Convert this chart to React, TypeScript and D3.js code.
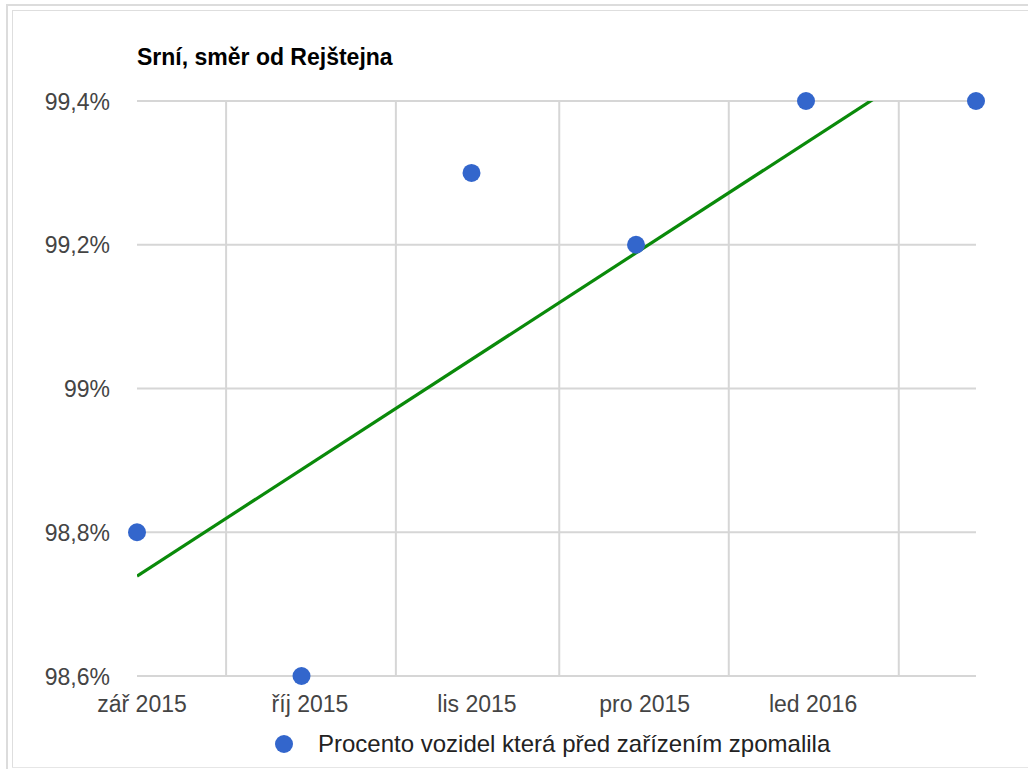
import React from "react";
import * as d3 from "d3";

const title = "Srní, směr od Rejštejna";
const seriesName = "Procento vozidel která před zařízením zpomalila";

const pointDates = [
  Date.UTC(2015, 8, 1),
  Date.UTC(2015, 9, 1),
  Date.UTC(2015, 10, 1),
  Date.UTC(2015, 11, 1),
  Date.UTC(2016, 0, 1),
  Date.UTC(2016, 1, 1),
];
const pointValues = [98.8, 98.6, 99.3, 99.2, 99.4, 99.4];

// trendline (as drawn in reference) at first and last date
const trendDates = [Date.UTC(2015, 8, 1), Date.UTC(2016, 1, 1)];
const trendValues = [98.739, 99.495];

const yTicks = [98.6, 98.8, 99.0, 99.2, 99.4];
const xGridDates = [
  Date.UTC(2015, 8, 17, 6),
  Date.UTC(2015, 9, 18, 5),
  Date.UTC(2015, 10, 17, 0),
  Date.UTC(2015, 11, 17, 22),
  Date.UTC(2016, 0, 17, 22),
];
const xLabelDates = [
  Date.UTC(2015, 8, 1, 22),
  Date.UTC(2015, 9, 2, 13),
  Date.UTC(2015, 10, 2, 0),
  Date.UTC(2015, 11, 2, 14),
  Date.UTC(2016, 0, 2, 7),
];
const xLabels = ["zář 2015", "říj 2015", "lis 2015", "pro 2015", "led 2016"];

const W = 1028;
const H = 769;
const left = 137;
const right = 976;
const top = 101;
const bottom = 676;
const FONT = "Arial, 'Liberation Sans', sans-serif";

const fmtY = (v: number) => {
  const s = v.toFixed(1);
  return (s.endsWith(".0") ? s.slice(0, -2) : s).replace(".", ",") + "%";
};

export default function App() {
  const x = d3
    .scaleUtc()
    .domain([pointDates[0], pointDates[pointDates.length - 1]])
    .range([left, right]);
  const y = d3.scaleLinear().domain([98.6, 99.4]).range([bottom, top]);

  const trendLine = d3
    .line<number>()
    .x((_, i) => x(trendDates[i]))
    .y((v) => y(v));

  return (
    <svg
      width={W}
      height={H}
      style={{ position: "absolute", left: 0, top: 0, background: "#fff" }}
      fontFamily={FONT}
    >
      <defs>
        <clipPath id="plot">
          <rect x={left} y={top} width={right - left} height={bottom - top} />
        </clipPath>
      </defs>
      {/* frame */}
      <line x1={7} y1={5} x2={7} y2={H} stroke="#dcdcdc" strokeWidth={2} />
      <line x1={6} y1={5} x2={W} y2={5} stroke="#dcdcdc" strokeWidth={2} />
      <line x1={12.5} y1={10} x2={12.5} y2={767} stroke="#dedede" strokeWidth={1} />
      <line x1={12} y1={10.5} x2={W} y2={10.5} stroke="#dedede" strokeWidth={1} />
      <line x1={12} y1={767.5} x2={W} y2={767.5} stroke="#e6e6e6" strokeWidth={1} />

      <text x={137} y={65} fontSize={23} fontWeight="bold" fill="#000">
        {title}
      </text>

      {/* gridlines */}
      {yTicks.map((t) => (
        <line
          key={"gy" + t}
          x1={left}
          x2={right}
          y1={y(t)}
          y2={y(t)}
          stroke="#d6d6d6"
          strokeWidth={2}
        />
      ))}
      {xGridDates.map((d) => (
        <line
          key={"gx" + d}
          x1={x(d)}
          x2={x(d)}
          y1={top}
          y2={bottom}
          stroke="#d6d6d6"
          strokeWidth={2}
        />
      ))}

      {/* y labels */}
      {yTicks.map((t) => (
        <text
          key={"ly" + t}
          x={110}
          y={y(t) + 8.5}
          fontSize={23}
          textAnchor="end"
          fill="#444"
        >
          {fmtY(t)}
        </text>
      ))}

      {/* x labels */}
      {xLabelDates.map((d, i) => (
        <text
          key={"lx" + d}
          x={x(d)}
          y={712}
          fontSize={23}
          textAnchor="middle"
          fill="#444"
        >
          {xLabels[i]}
        </text>
      ))}

      {/* trendline */}
      <path
        d={trendLine(trendValues) || ""}
        stroke="#0a8a0a"
        strokeWidth={3.2}
        fill="none"
        clipPath="url(#plot)"
      />

      {/* points */}
      {pointValues.map((v, i) => (
        <circle
          key={"p" + i}
          cx={x(pointDates[i])}
          cy={y(v)}
          r={9}
          fill="#3366cc"
        />
      ))}

      {/* legend */}
      <circle cx={284} cy={744} r={9} fill="#3366cc" />
      <text x={318} y={752} fontSize={24} fill="#222">
        {seriesName}
      </text>
    </svg>
  );
}
